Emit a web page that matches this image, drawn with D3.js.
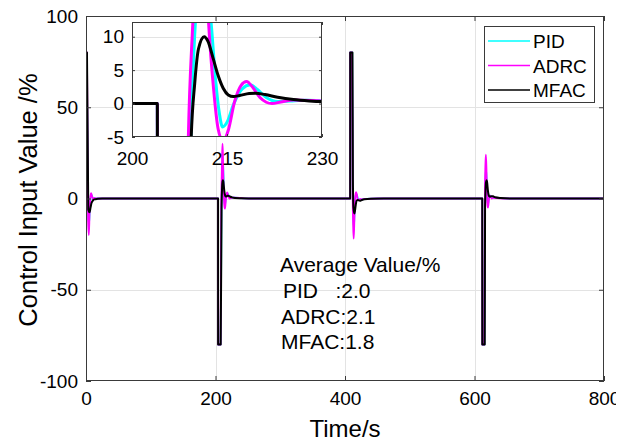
<!DOCTYPE html>
<html>
<head>
<meta charset="utf-8">
<script src="https://cdn.jsdelivr.net/npm/d3@7"></script>
<style>
  html, body { margin: 0; padding: 0; background: #fff; }
  svg text { font-family: "Liberation Sans", Arial, Helvetica, sans-serif; fill: #000; }
</style>
</head>
<body>
<svg id="chart" width="616" height="443"></svg>
<script>
// Control input traces, [time (s), value (%)]
const pidPoints = [
  [0, 63], [1.5, 63], [3.2, -8], [4.6, -14], [5.8, -7], [7.2, 0.5], [8.6, 2], [10.2, 0.6], [12, -0.3], [15, 0],
  [204, 0], [204.05, -80], [207.9, -80], [209.3, -5], [210, 12], [210.6, 18], [211.2, 21], [211.8, 18], [212.5, 12],
  [213.2, 3.5], [213.8, -1.5], [214.3, -3.5], [215, -2.8], [216, -0.2], [217.4, 2.2], [218.7, 2.8], [219.8, 2.1],
  [221.2, 0.9], [223, 0.3], [225, 0.4], [227.5, 0.5], [230, 0.4], [245, 0.1], [265, 0],
  [408, 0], [408.05, 80], [411.2, 80], [412, 5], [412.8, -10], [413.6, -16], [414.4, -11], [415.3, -3], [416.4, 1.5],
  [417.6, 2.5], [418.8, 1.5], [420, 0], [422, -0.6], [426, -0.5], [432, -0.2], [450, 0],
  [612, 0], [612.05, -80], [615.4, -80], [616.2, 0], [617, 12], [617.8, 16], [618.6, 12], [619.4, 3], [620.2, -2],
  [621, -3], [622, -1], [623.2, 1], [624.4, 1.5], [625.6, 0.8], [627, 0.3], [632, 0.3], [650, 0], [800, 0]
];
const adrcPoints = [
  [0, 80], [1.5, 80], [3.2, -12], [4.4, -20], [5.5, -8], [6.8, 1], [8, 3], [9.5, 1], [11, -0.5], [13, 0.3], [16, 0],
  [204, 0], [204.05, -80], [207.8, -80], [208.9, -5], [209.6, 12], [210.2, 24], [210.85, 30], [211.5, 24], [212.1, 12],
  [212.9, 2], [213.6, -3.8], [214.4, -5.6], [215.2, -4], [216.2, 0.3], [217.2, 2.7], [218.1, 3.3], [219, 2.5],
  [220.2, 0.9], [221.2, 0.2], [222.1, 0], [223.5, 0.25], [225.5, 0.55], [230, 0.4], [245, 0.1], [265, 0],
  [408, 0], [408.05, 80], [411, 80], [411.8, 5], [412.6, -15], [413.4, -22], [414.2, -15], [415, -5], [416, 1.5],
  [417.2, 3.5], [418.4, 2], [419.6, -0.5], [421, -1], [423, -0.3], [426, -0.5], [430, -0.3], [450, 0],
  [612, 0], [612.05, -80], [615.2, -80], [616, 0], [616.8, 18], [617.6, 24], [618.4, 17], [619.2, 4], [620, -3.5],
  [620.8, -5], [621.6, -3], [622.6, 0.5], [623.8, 1.5], [625, 1], [626.5, 0], [629, 0.3], [635, 0.2], [650, 0], [800, 0]
];
const mfacPoints = [
  [0, 80], [1.5, 80], [3.5, -6], [5.5, -7.5], [7, -5], [8.5, -2.5], [10.5, -1.2], [13, -0.5], [18, -0.2], [25, 0],
  [204, 0], [204.05, -80], [208, -80], [209.35, -5], [209.9, 3], [210.5, 8.2], [211.4, 10], [212, 9.3], [212.8, 6.8],
  [213.6, 4.2], [214.4, 2.3], [215.2, 1.3], [216, 1.05], [217, 1.2], [218.5, 1.5], [219.5, 1.55], [221, 1.35],
  [223, 0.95], [225.5, 0.6], [228, 0.4], [230, 0.3], [240, 0.15], [260, 0],
  [408, 0], [408.05, 80], [411.5, 80], [412.2, 10], [413, -5], [414.5, -8.2], [415.5, -6.5], [416.8, -3], [418, -1.2],
  [420, -0.8], [423, -1.2], [426, -0.8], [430, -0.4], [440, -0.1], [460, 0],
  [612, 0], [612.05, -80], [615.8, -80], [616.3, -5], [617, 4], [617.8, 9], [618.8, 10], [619.6, 8.5], [620.5, 5],
  [621.5, 2.5], [622.7, 1.2], [624, 1], [626, 1.3], [628.5, 1.2], [632, 0.7], [640, 0.3], [660, 0], [800, 0]
];

const seriesNames = ["PID", "ADRC", "MFAC"];
const seriesColors = ["#00ffff", "#ff00ff", "#000000"];
const seriesData = [pidPoints, adrcPoints, mfacPoints];

const xTicks = [0, 200, 400, 600, 800];
const yTicks = [-100, -50, 0, 50, 100];
const insetXTicks = [200, 215, 230];
const insetYTicks = [-5, 0, 5, 10];

const averageTitle = "Average Value/%";
const averageLabels = ["PID   :2.0", "ADRC:2.1", "MFAC:1.8"];

const svg = d3.select("#chart");
const plainNumber = d => String(d);   // ASCII hyphen for negatives

// ---- main axes ----
const main = { left: 86, right: 604, top: 16, bottom: 381 };
const x = d3.scaleLinear().domain([0, 800]).range([main.left, main.right]);
const y = d3.scaleLinear().domain([-100, 100]).range([main.bottom, main.top]);

svg.append("clipPath").attr("id", "mainClip")
  .append("rect").attr("x", main.left).attr("y", main.top)
  .attr("width", main.right - main.left).attr("height", main.bottom - main.top);

const grid = svg.append("g").attr("stroke", "#e3e3e3").attr("stroke-width", 1);
xTicks.slice(1, -1).forEach(t => grid.append("line")
  .attr("x1", Math.round(x(t)) + 0.5).attr("x2", Math.round(x(t)) + 0.5)
  .attr("y1", main.top).attr("y2", main.bottom));
yTicks.slice(1, -1).forEach(t => grid.append("line")
  .attr("y1", Math.round(y(t)) + 0.5).attr("y2", Math.round(y(t)) + 0.5)
  .attr("x1", main.left).attr("x2", main.right));

const line = d3.line().x(d => x(d[0])).y(d => y(d[1])).curve(d3.curveMonotoneX);
const lines = svg.append("g").attr("clip-path", "url(#mainClip)");
seriesData.forEach((pts, i) => lines.append("path")
  .attr("d", line(pts)).attr("fill", "none")
  .attr("stroke", seriesColors[i]).attr("stroke-width", i === 2 ? 2 : 1.8)
  .attr("stroke-linejoin", "round"));

function frame(g, sx, sy, box, xt, yt, tickLen, fontSize, xGap, yGap) {
  const bottomAxis = d3.axisBottom(sx).tickValues(xt).tickSize(-tickLen).tickPadding(xGap).tickFormat(plainNumber);
  const topAxis = d3.axisTop(sx).tickValues(xt).tickSize(-tickLen).tickFormat("");
  const leftAxis = d3.axisLeft(sy).tickValues(yt).tickSize(-tickLen).tickPadding(yGap).tickFormat(plainNumber);
  const rightAxis = d3.axisRight(sy).tickValues(yt).tickSize(-tickLen).tickFormat("");
  const style = sel => {
    sel.select(".domain").remove();
    sel.selectAll("line").attr("stroke", "#3a3a3a");
    sel.selectAll("text").attr("font-size", fontSize).attr("fill", "#000")
      .attr("font-family", "'Liberation Sans', Arial, sans-serif");
  };
  g.append("g").attr("transform", `translate(0,${box.bottom})`).call(bottomAxis).call(style);
  g.append("g").attr("transform", `translate(0,${box.top})`).call(topAxis).call(style);
  g.append("g").attr("transform", `translate(${box.left},0)`).call(leftAxis).call(style);
  g.append("g").attr("transform", `translate(${box.right},0)`).call(rightAxis).call(style);
  g.append("rect").attr("x", box.left + 0.5).attr("y", box.top + 0.5)
    .attr("width", box.right - box.left - 1).attr("height", box.bottom - box.top - 1)
    .attr("fill", "none").attr("stroke", "#3a3a3a").attr("stroke-width", 1);
}
frame(svg.append("g"), x, y, main, xTicks, yTicks, 5, 19, 11, 8);

svg.append("text").attr("transform", "translate(37,200) rotate(-90)")
  .attr("text-anchor", "middle").attr("font-size", 25.5).text("Control Input Value /%");
svg.append("text").attr("x", (main.left + main.right) / 2).attr("y", 437)
  .attr("text-anchor", "middle").attr("font-size", 24).text("Time/s");

// ---- zoomed inset ----
const inset = { left: 132, right: 322, top: 22, bottom: 137 };
const xi = d3.scaleLinear().domain([200, 230]).range([inset.left, inset.right]);
const yi = d3.scaleLinear().domain([-5, 12.2]).range([inset.bottom, inset.top]);
const ig = svg.append("g");
ig.append("rect").attr("x", inset.left).attr("y", inset.top)
  .attr("width", inset.right - inset.left).attr("height", inset.bottom - inset.top).attr("fill", "#fff");
ig.append("clipPath").attr("id", "insetClip")
  .append("rect").attr("x", inset.left).attr("y", inset.top)
  .attr("width", inset.right - inset.left).attr("height", inset.bottom - inset.top);
const igrid = ig.append("g").attr("stroke", "#e3e3e3");
insetXTicks.slice(1, -1).forEach(t => igrid.append("line")
  .attr("x1", Math.round(xi(t)) + 0.5).attr("x2", Math.round(xi(t)) + 0.5)
  .attr("y1", inset.top).attr("y2", inset.bottom));
insetYTicks.slice(1).forEach(t => igrid.append("line")
  .attr("y1", Math.round(yi(t)) + 0.5).attr("y2", Math.round(yi(t)) + 0.5)
  .attr("x1", inset.left).attr("x2", inset.right));
const iline = d3.line().x(d => xi(d[0])).y(d => yi(d[1])).curve(d3.curveMonotoneX);
const ilines = ig.append("g").attr("clip-path", "url(#insetClip)");
seriesData.forEach((pts, i) => ilines.append("path")
  .attr("d", iline(pts.filter(p => p[0] >= 10 && p[0] <= 300))).attr("fill", "none")
  .attr("stroke", seriesColors[i]).attr("stroke-width", 3).attr("stroke-linejoin", "round"));
frame(ig, xi, yi, inset, insetXTicks, insetYTicks, 3, 19, 15, 8);

// ---- legend ----
const lg = svg.append("g");
lg.append("rect").attr("x", 484.5).attr("y", 26.5).attr("width", 110).attr("height", 76)
  .attr("fill", "#fff").attr("stroke", "#3a3a3a");
seriesNames.forEach((name, i) => {
  const cy = 41 + i * 24.5;
  lg.append("line").attr("x1", 488).attr("x2", 530).attr("y1", cy).attr("y2", cy)
    .attr("stroke", seriesColors[i]).attr("stroke-width", 1.5);
  lg.append("text").attr("x", 533).attr("y", cy + 7).attr("font-size", 19).text(name);
});

// ---- average value note ----
const note = svg.append("g").attr("font-size", 21);
note.append("text").attr("x", 280).attr("y", 272).text(averageTitle);
averageLabels.forEach((s, i) => note.append("text")
  .attr("x", i === 0 ? 283 : 281).attr("y", 298 + i * 25.5)
  .attr("xml:space", "preserve").style("white-space", "pre").text(s));
</script>
</body>
</html>
